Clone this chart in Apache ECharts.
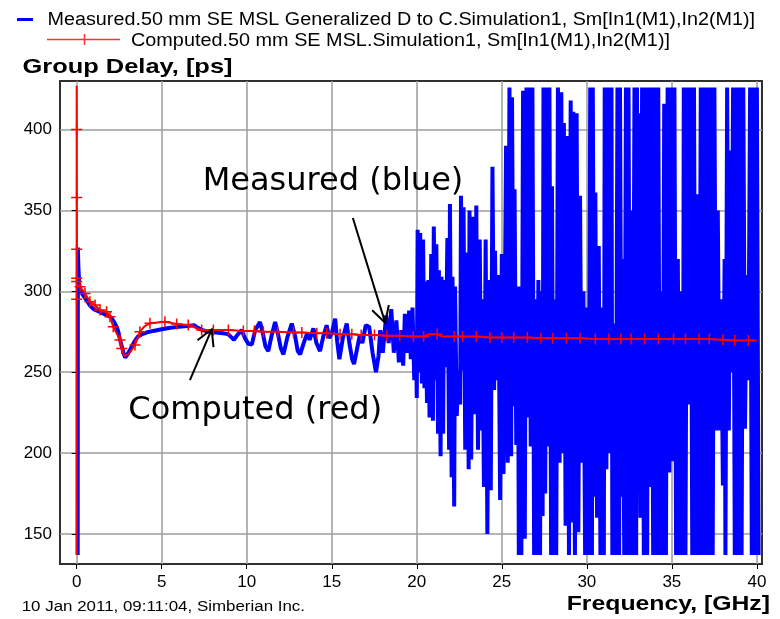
<!DOCTYPE html>
<html><head><meta charset="utf-8">
<script src="https://cdn.jsdelivr.net/npm/echarts@6/dist/echarts.min.js"></script>
<style>html,body{margin:0;padding:0;background:#fff}#c{width:780px;height:619px}</style>
</head><body><div id="c"></div>
<script>
// ---------- data ----------
const xTicks = [0, 5, 10, 15, 20, 25, 30, 35, 40];
const yTicks = [150, 200, 250, 300, 350, 400];
const legendMeasured = "Measured.50 mm SE MSL Generalized D to C.Simulation1, Sm[In1(M1),In2(M1)]";
const legendComputed = "Computed.50 mm SE MSL.Simulation1, Sm[In1(M1),In2(M1)]";
const yTitle = "Group Delay, [ps]";
const xTitle = "Frequency, [GHz]";
const footer = "10 Jan 2011, 09:11:04, Simberian Inc.";
const noteMeasured = "Measured (blue)";
const noteComputed = "Computed (red)";

// measured group delay [GHz, ps] (values outside the visible band are shown at the clip limits)
const measured = [
[0.06,137],[0.07,327],[0.1,315],[0.15,305],[0.2,301],[0.35,298],[0.55,295],[0.8,291],[1.0,289],[1.2,288],[1.4,287],[1.6,286],[1.85,285],[2.05,283.5],[2.2,281],[2.35,278],[2.45,275],[2.55,270],[2.65,266],[2.75,262],[2.85,259],[2.95,260],[3.05,262],[3.2,265],[3.4,269],[3.6,272],[3.85,273.5],[4.1,274.5],[4.5,275.5],[5.0,276.5],[5.5,277.5],[6.0,278],[6.5,278.5],[6.9,279],[7.1,277.5],[7.4,276],[7.8,275],[8.2,274.5],[8.6,274],[8.9,273.5],[9.1,271.5],[9.25,270],[9.45,273],[9.7,276],[9.9,271],[10.1,267.5],[10.3,267],[10.5,276],[10.78,281],[10.95,274],[11.1,266],[11.27,263],[11.45,272],[11.67,281],[11.85,273],[12.0,265],[12.16,261],[12.4,272],[12.65,280],[12.85,272],[13.0,263],[13.14,261],[13.35,268],[13.55,274],[13.7,270],[13.92,277],[14.1,268],[14.31,263],[14.5,272],[14.7,279],[14.85,271],[15.0,274],[15.2,283],[15.32,269],[15.45,258],[15.65,271],[15.88,280],[16.05,267],[16.2,258],[16.31,255],[16.5,265],[16.65,273],[16.8,268],[17.0,279],[17.2,278],[17.4,262],[17.6,250],[17.75,260],[17.85,276],[18.0,262],[18.2,285],[18.35,268],[18.5,289],[18.65,262],[18.8,282],[18.95,256],[19.1,276],[19.2,254],[19.3,286],[19.45,262],[19.55,288],[19.65,258],[19.75,290],[19.85,245],[19.95,272],[20.0,234],
[20.05,338],[20.12,250],[20.2,336],[20.3,243],[20.37,332],[20.45,240],[20.5,306],[20.6,231],[20.68,307],[20.75,222],[20.85,323],[20.95,220],[21.0,340],[21.1,245],[21.15,329],[21.25,212],[21.3,313],[21.4,198],[21.45,309],[21.55,212],[21.6,307],[21.7,253],[21.8,333],[21.9,202],[21.95,354],[22.05,185],[22.1,309],[22.2,167],[22.25,303],[22.35,223],[22.45,251],[22.55,230],[22.6,359],[22.7,251],[22.75,352],[22.85,202],[22.95,324],[23.05,190],[23.1,350],[23.2,196],[23.3,346],[23.4,224],[23.5,353],[23.6,202],[23.7,332],[23.8,214],[23.85,295],[23.95,179],[24.05,332],[24.15,150],[24.25,307],[24.35,177],[24.45,377],[24.55,239],[24.6,325],[24.7,245],[24.8,310],[24.9,171],[25.0,323],[25.1,187],[25.25,390],[25.35,194],[25.45,426],[25.55,198],[25.6,420],[25.7,229],[25.75,363],[25.85,205],[25.95,303],[26.0,137],[26.1,303],[26.15,137],[26.25,424],[26.35,147],[26.45,426],[26.5,222],[26.6,426],[26.7,204],[26.8,426],[26.9,137],[26.95,295],[27.05,137],[27.15,307],[27.25,137],[27.3,300],[27.4,161],[27.45,426],[27.55,175],[27.65,426],[27.75,204],[27.8,426],[27.9,137],[27.95,365],[28.05,137],[28.1,295],[28.2,137],[28.3,426],[28.4,194],[28.5,423],[28.55,200],[28.65,404],[28.75,155],[28.85,396],[28.95,137],[29.05,418],[29.1,157],[29.2,411],[29.3,137],[29.4,410],[29.5,151],[29.6,359],[29.7,194],[29.8,300],[29.9,137],[30.0,290],[30.1,137],[30.2,426],[30.3,137],[30.35,426],[30.45,173],[30.5,361],[30.6,160],[30.7,328],[30.8,137],[30.9,290],[31.0,137],[31.05,426],[31.15,190],[31.25,426],[31.35,200],[31.45,426],[31.5,137],[31.6,280],[31.7,137],[31.8,426],[31.9,137],[31.95,426],[32.05,173],[32.1,320],[32.2,137],[32.3,426],[32.4,137],[32.45,426],[32.55,137],[32.6,350],[32.7,137],[32.8,426],[32.9,137],[32.95,426],[33.0,180],[33.05,410],[33.15,160],[33.25,426],[33.35,137],[33.45,426],[33.55,137],[33.6,426],[33.7,179],[33.8,426],[33.9,137],[34.0,426],[34.1,137],[34.2,426],[34.3,137],[34.35,300],[34.45,137],[34.55,416],[34.65,137],[34.75,426],[34.85,188],[34.95,426],[35.05,195],[35.15,426],[35.25,137],[35.35,320],[35.45,137],[35.55,300],[35.65,137],[35.7,426],[35.8,137],[35.9,426],[36.0,230],[36.1,426],[36.2,137],[36.3,426],[36.4,137],[36.5,360],[36.6,137],[36.7,426],[36.8,137],[36.9,426],[37.0,137],[37.1,426],[37.2,137],[37.3,426],[37.4,137],[37.5,426],[37.6,214],[37.7,350],[37.8,214],[37.9,295],[38.0,180],[38.1,320],[38.15,137],[38.25,426],[38.35,214],[38.45,387],[38.5,250],[38.6,426],[38.7,137],[38.8,426],[38.9,137],[39.0,426],[39.1,137],[39.2,426],[39.3,215],[39.4,310],[39.5,245],[39.6,426],[39.7,137],[39.8,426],[39.9,137],[40.0,426],[40.1,137]
];

// computed group delay curve [GHz, ps]
const computed = [
[0,137],[0,427],[0.02,304],[0.2,302.8],[0.49,298.7],[0.78,293.6],[1.08,291.5],[1.37,288.4],[1.76,287.4],[1.96,284.3],[2.15,278.1],[2.35,274],[2.55,269.9],[2.65,264.7],[2.8,260],[2.9,259.5],[3.05,261],[3.25,264],[3.43,266.8],[3.72,275],[4.0,278.5],[4.31,280.2],[5.19,281.2],[5.88,279.8],[6.56,279.2],[7.35,276],[8.04,276],[8.92,276],[9.8,275.5],[10.45,275.5],[10.98,275],[11.82,275],[12.75,274.5],[13.24,274.5],[14.12,274],[14.7,274],[15.49,273.5],[16.18,273.5],[16.73,273],[17.51,273],[18.24,272.5],[19.0,272.5],[19.8,272],[20.4,272],[20.7,273.5],[21.2,273.5],[21.5,272],[22.2,272],[22.7,272],[23.5,272],[24.3,271.5],[25.0,271.5],[25.7,271.5],[26.5,271.5],[27.3,271],[28.0,271],[28.8,271],[29.6,271],[30.5,270.5],[31.3,270.5],[32.0,270.5],[32.6,270.5],[33.4,270.5],[34.2,270.5],[35.1,270.5],[35.8,270.5],[36.6,270.5],[37.2,270.5],[38.0,270],[38.7,269.5],[39.5,269.5],[40.0,269.5]
];
// positions of the "+" markers on the computed curve [GHz, ps]
const computedMarkers = [
[0,400],[0,358],[0,326],[0,308],[0,306],[0,295],[0.2,302.8],[0.49,298.7],[0.78,293.6],[1.08,291.5],[1.37,288.4],[1.76,287.4],[1.96,284.3],[2.15,278.1],[2.55,269.9],[2.65,264.7],[3.43,266.8],[3.72,275],[4.31,280.2],[5.19,281.2],[5.88,279.8],[6.56,279.2],[7.35,276],[8.04,276],[8.92,276],[9.8,275.5],[10.45,275.5],[10.98,275],[11.82,275],[12.75,274.5],[13.24,274.5],[14.12,274],[14.7,274],[15.49,273.5],[16.18,273.5],[16.73,273],[17.51,273],[18.24,272.5],[19.0,272.5],[19.8,272],[20.4,272],[21.2,273.5],[22.2,272],[22.7,272],[23.5,272],[24.3,271.5],[25.0,271.5],[25.7,271.5],[26.5,271.5],[27.3,271],[28.0,271],[28.8,271],[29.6,271],[30.5,270.5],[31.3,270.5],[32.0,270.5],[32.6,270.5],[33.4,270.5],[34.2,270.5],[35.1,270.5],[35.8,270.5],[36.6,270.5],[37.2,270.5],[38.0,270],[38.7,269.5],[39.5,269.5]
];

// annotation arrows in data coordinates: [tail, tip]
const arrowMeasured = [[16.24, 345.3], [18.14, 280.6]];
const arrowComputed = [[6.66, 245.1], [7.94, 276.5]];

// ---------- chart ----------
const chart = echarts.init(document.getElementById('c'), null, {renderer: 'canvas'});
const LS = 'Liberation Sans';

const measureCtx = document.createElement('canvas').getContext('2d');
function fitText(text, x0, x1, yc, size, weight) {
  measureCtx.font = weight + ' ' + size + 'px "' + LS + '"';
  const w = measureCtx.measureText(text).width;
  return {
    type: 'text', x: x0, y: yc, scaleX: (x1 - x0) / w, z: 100,
    style: {text: text, fontFamily: LS, fontSize: size, fontWeight: weight, fill: '#000',
            textAlign: 'left', textVerticalAlign: 'middle'}
  };
}

chart.setOption({
  animation: false,
  backgroundColor: '#fff',
  grid: {left: 60, right: 18, top: 81, bottom: 55, show: true, borderColor: '#303030', borderWidth: 2,
         containLabel: false, outerBoundsMode: 'none'},
  xAxis: {
    type: 'value', min: -0.98, max: 40.3,
    axisLine: {show: false},
    axisTick: {show: true, length: 5, customValues: xTicks, lineStyle: {color: '#000', width: 1}},
    axisLabel: {customValues: xTicks, fontFamily: LS, fontSize: 17, color: '#000', margin: 10},
    splitLine: {show: true, lineStyle: {color: '#9c9c9c', width: 1.5}}
  },
  yAxis: {
    type: 'value', min: 131.4, max: 430,
    axisLine: {show: false},
    axisTick: {show: true, length: 5, customValues: yTicks, lineStyle: {color: '#000', width: 1}},
    axisLabel: {customValues: yTicks, fontFamily: LS, fontSize: 17, color: '#000', margin: 8},
    splitLine: {show: true, lineStyle: {color: '#9c9c9c', width: 1.5}}
  },
  series: [
    {name: 'Measured', type: 'line', data: measured, showSymbol: false, symbol: 'none',
     lineStyle: {color: '#0000ff', width: 4, join: 'bevel'}, clip: true, z: 2, sampling: null},
    {name: 'Computed', type: 'line', data: computed, showSymbol: false, symbol: 'none',
     lineStyle: {color: '#ff0000', width: 2}, clip: true, z: 3},
    {name: 'Computed markers', type: 'scatter', data: computedMarkers,
     symbol: 'path://M0,5L10,5M5,0L5,10', symbolSize: 11,
     itemStyle: {color: '#ff0000', borderColor: '#ff0000', borderWidth: 1.5, opacity: 1}, z: 4}
  ]
});

function arrowGraphic(pts) {
  const tail = chart.convertToPixel({gridIndex: 0}, pts[0]);
  const tip = chart.convertToPixel({gridIndex: 0}, pts[1]);
  const ang = Math.atan2(tail[1] - tip[1], tail[0] - tip[0]);
  const L = 18, a = 29 * Math.PI / 180;
  const w1 = [tip[0] + L * Math.cos(ang + a), tip[1] + L * Math.sin(ang + a)];
  const w2 = [tip[0] + L * Math.cos(ang - a), tip[1] + L * Math.sin(ang - a)];
  return [
    {type: 'polyline', z: 100, shape: {points: [tail, tip]}, style: {stroke: '#000', lineWidth: 2, fill: null}},
    {type: 'polyline', z: 100, shape: {points: [w1, tip, w2]}, style: {stroke: '#000', lineWidth: 2, fill: null}}
  ];
}

const graphics = [
  // legend
  {type: 'rect', z: 100, shape: {x: 17, y: 18, width: 16, height: 3}, style: {fill: '#0000ff'}},
  fitText(legendMeasured, 47.5, 755, 20.3, 18, 'normal'),
  {type: 'line', z: 100, shape: {x1: 47, y1: 39.5, x2: 120, y2: 39.5}, style: {stroke: '#ff3030', lineWidth: 1.5}},
  {type: 'line', z: 100, shape: {x1: 84.5, y1: 34, x2: 84.5, y2: 45}, style: {stroke: '#ff3030', lineWidth: 1.5}},
  fitText(legendComputed, 131, 670, 41, 18, 'normal'),
  // axis titles and footer
  fitText(yTitle, 22.5, 232.5, 67, 21, 'bold'),
  fitText(xTitle, 566.7, 770, 604.5, 20, 'bold'),
  fitText(footer, 21.7, 305, 606.7, 14, 'normal'),
  // annotations
  {type: 'text', x: 202.7, y: 181.7, z: 100,
   style: {text: noteMeasured, fontFamily: 'DejaVu Sans', fontSize: 32, fill: '#000', textAlign: 'left', textVerticalAlign: 'middle'}},
  {type: 'text', x: 128.3, y: 410.5, z: 100,
   style: {text: noteComputed, fontFamily: 'DejaVu Sans', fontSize: 32, fill: '#000', textAlign: 'left', textVerticalAlign: 'middle'}}
].concat(arrowGraphic(arrowMeasured), arrowGraphic(arrowComputed));

chart.setOption({graphic: {elements: graphics}});
</script>
</body></html>
